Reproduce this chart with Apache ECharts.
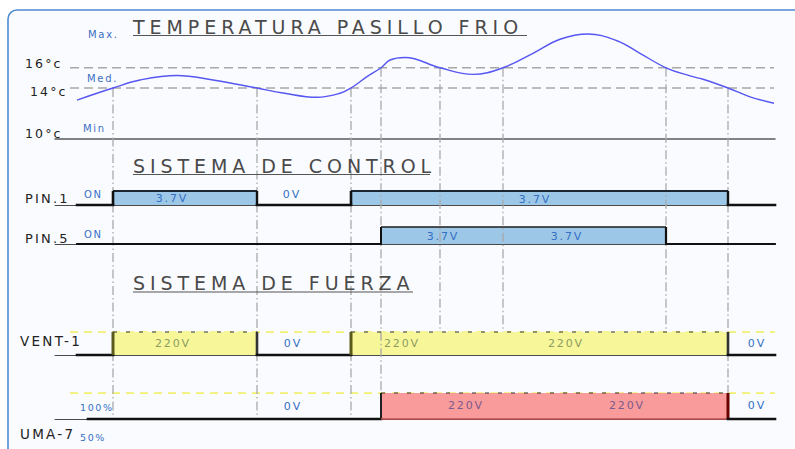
<!DOCTYPE html>
<html><head><meta charset="utf-8">
<script src="https://cdn.jsdelivr.net/npm/echarts@6/dist/echarts.min.js"></script>
<style>
html,body{margin:0;padding:0;background:#ffffff;}
#main{width:795px;height:449px;}
#main text{letter-spacing:0.17em;}
#main text[style*="cadTitle"]{letter-spacing:0.26em;}
</style></head><body><div id="main"></div>
<script>
// ---- Temperature curve (time units 0..720, °C) ----
const curveTime = [22,58,85,122,158,202,228,262,285,296,312,326,335,350,385,418,448,478,505,533,562,585,611,635,648,673,695,719];
const curveTemp = [12.93,14,14.76,15.2,14.76,14,13.55,13.17,13.52,14,15.09,16,16.84,17.12,16,15.32,16,17.6,19.31,20.0,19.12,17.6,16,15.16,14.83,14,13.21,12.66];
const thresholdTemps = [14, 16];
const thresholdSpan = [15, 719];

// ---- Event lines (where the curve crosses a threshold) ----
const eventTimes = [58, 202, 296, 326, 385, 448, 611, 673];
const eventStartTemps = [14, 14, 14, 16, 16, 16, 16, 14];
const eventEndRow = ['uma','uma','uma','uma','vent','vent','vent','uma'];

// ---- Signals: change times and levels (0 = off, 1 = on) ----
const pin1Times = [22, 58, 202, 296, 673, 720];
const pin1Levels = [0, 1, 0, 1, 0];
const pin5Times = [22, 326, 611, 720];
const pin5Levels = [0, 1, 0];
const vent1Times = [22, 58, 202, 296, 673, 720];
const vent1Levels = [0, 1, 0, 1, 0];
const uma7Times = [33, 326, 673, 720];
const uma7Levels = [0, 1, 0];
const powerGuideSpan = [15, 720];

// ---- Signal annotations ----
const pin1LabelTimes = [117, 237, 480];
const pin1LabelLevels = [0.5, 0.78, 0.36];
const pin1LabelTexts = ['3.7V', '0V', '3.7V'];
const pin5LabelTimes = [388, 512];
const pin5LabelLevels = [0.43, 0.43];
const pin5LabelTexts = ['3.7V', '3.7V'];
const vent1LabelTimes = [118, 238, 347, 511, 702];
const vent1LabelLevels = [0.52, 0.52, 0.52, 0.52, 0.52];
const vent1LabelTexts = ['220V', '0V', '220V', '220V', '0V'];
const uma7LabelTimes = [238, 411, 572, 702];
const uma7LabelLevels = [0.5, 0.51, 0.51, 0.52];
const uma7LabelTexts = ['0V', '220V', '220V', '0V'];

// ---- layout ----
const L = {
  temp: {top: 19.5, bottom: 139},
  pin1: {top: 191, bottom: 205},
  pin5: {top: 227, bottom: 244},
  vent: {top: 332, bottom: 355},
  uma:  {top: 393, bottom: 419}
};
const GL = 55, GW = 720;
const FONT = 'DejaVu Sans';
const TFONT = 'DejaVu Sans, cadTitle';

const chart = echarts.init(document.getElementById('main'), null, {renderer: 'svg'});

function segs(times, levels) { return levels.map((l, i) => [times[i], times[i + 1], l]); }
function labels(t, lv, tx) { return t.map((v, i) => [v, lv[i], tx[i]]); }

const order = ['temp', 'pin1', 'pin5', 'vent', 'uma'];
const grids = order.map(k => ({left: GL, width: GW, top: L[k].top, height: L[k].bottom - L[k].top}));
const xAxes = order.map((k, i) => ({
  type: 'value', gridIndex: i, min: 0, max: 720, show: true,
  axisLine: {show: true, onZero: false, lineStyle: {color: i === 0 ? '#5a5a5a' : '#4a4a4a', width: i === 0 ? 1.5 : 1}},
  axisTick: {show: false}, axisLabel: {show: false}, splitLine: {show: false}
}));
const yAxes = order.map((k, i) => i === 0
  ? {type: 'log', logBase: 10, gridIndex: 0, min: 10, max: 22, show: false}
  : {type: 'value', gridIndex: i, min: 0, max: 1, show: false});

function fillSeries(idx, data, fill) {
  return {
    type: 'custom', xAxisIndex: idx, yAxisIndex: idx, z: 2, silent: true, data: data,
    renderItem: (p, api) => {
      if (api.value(2) !== 1) return null;
      const a = api.coord([api.value(0), 0]), b = api.coord([api.value(1), 1]);
      return {type: 'rect', shape: {x: a[0], y: b[1], width: b[0] - a[0], height: a[1] - b[1]}, style: {fill: fill}};
    }
  };
}
function outlineSeries(idx, data, cfg) {
  return {
    type: 'custom', xAxisIndex: idx, yAxisIndex: idx, z: 4, silent: true, data: data,
    renderItem: (p, api) => {
      const a = api.coord([api.value(0), 0]), b = api.coord([api.value(1), 1]);
      if (api.value(2) === 0) {
        return {type: 'line', shape: {x1: a[0], y1: a[1], x2: b[0], y2: a[1]},
          style: {stroke: '#111', lineWidth: cfg.lowWidth, lineCap: 'square'}};
      }
      const ch = [
        {type: 'line', shape: {x1: a[0], y1: b[1], x2: b[0], y2: b[1]}, style: cfg.top},
        {type: 'line', shape: {x1: a[0], y1: a[1], x2: a[0], y2: b[1]}, style: cfg.rise},
        {type: 'line', shape: {x1: b[0], y1: a[1], x2: b[0], y2: b[1]}, style: cfg.fall}
      ];
      if (cfg.bottom) ch.push({type: 'line', shape: {x1: a[0], y1: a[1], x2: b[0], y2: a[1]}, style: cfg.bottom});
      return {type: 'group', children: ch};
    }
  };
}
function labelSeries(idx, data, color, size) {
  return {
    type: 'custom', xAxisIndex: idx, yAxisIndex: idx, z: 5, silent: true, data: data,
    renderItem: (p, api) => {
      const d = data[p.dataIndex];
      const c = api.coord([d[0], d[1]]);
      return {type: 'text', style: {text: d[2], x: c[0], y: c[1], textAlign: 'center', textVerticalAlign: 'middle',
        fill: typeof color === 'function' ? color(d[2]) : color, fontSize: size, fontFamily: FONT}};
    }
  };
}
function guideSeries(idx, span, level, color, dash) {
  return {type: 'line', xAxisIndex: idx, yAxisIndex: idx, silent: true, symbol: 'none', z: 1,
    data: [[span[0], level], [span[1], level]],
    lineStyle: {color: color, width: 1.3, type: dash}};
}

const blueTxt = '#3470c4';
const series = [
  guideSeries(0, thresholdSpan, thresholdTemps[0], '#a8a8a8', [9, 5]),
  guideSeries(0, thresholdSpan, thresholdTemps[1], '#a8a8a8', [9, 5]),
  {type: 'line', xAxisIndex: 0, yAxisIndex: 0, symbol: 'none', smooth: 0.4, z: 3, silent: true,
   data: curveTime.map((t, i) => [t, curveTemp[i]]), lineStyle: {color: '#5656f2', width: 1.4}},
  guideSeries(3, powerGuideSpan, 1, '#eeee44', [8, 6]),
  guideSeries(4, powerGuideSpan, 1, '#eeee44', [8, 6]),
  fillSeries(1, segs(pin1Times, pin1Levels), '#9dc7e7'),
  fillSeries(2, segs(pin5Times, pin5Levels), '#9dc7e7'),
  fillSeries(3, segs(vent1Times, vent1Levels), '#f7f799'),
  fillSeries(4, segs(uma7Times, uma7Levels), '#f99b9b'),
  {type: 'custom', xAxisIndex: 0, yAxisIndex: 0, z: 3, silent: true, clip: false,
   data: eventTimes.map((t, i) => [t, eventStartTemps[i], eventEndRow[i] === 'vent' ? 1 : 0]),
   renderItem: (p, api) => {
     const s = api.coord([api.value(0), api.value(1)]);
     const endY = api.value(2) === 1 ? L.vent.top : L.uma.bottom;
     return {type: 'line', shape: {x1: s[0], y1: s[1], x2: s[0], y2: endY},
       style: {stroke: '#a9a9a9', lineWidth: 1.3, lineDash: [9, 3, 1.5, 3]}};
   }},
  outlineSeries(1, segs(pin1Times, pin1Levels), {lowWidth: 2.6,
    top: {stroke: '#1c2630', lineWidth: 2}, rise: {stroke: '#111', lineWidth: 2.6}, fall: {stroke: '#111', lineWidth: 2.4}}),
  outlineSeries(2, segs(pin5Times, pin5Levels), {lowWidth: 1.8,
    top: {stroke: '#1c1c1c', lineWidth: 1.6}, rise: {stroke: '#111', lineWidth: 2}, fall: {stroke: '#111', lineWidth: 2.2}}),
  outlineSeries(3, segs(vent1Times, vent1Levels), {lowWidth: 2.6,
    top: {stroke: '#333', lineWidth: 1.2, lineDash: [4, 9]}, rise: {stroke: '#5a5a1a', lineWidth: 3}, fall: {stroke: '#333', lineWidth: 2.6}}),
  outlineSeries(4, segs(uma7Times, uma7Levels), {lowWidth: 2.6,
    top: {stroke: '#333', lineWidth: 1.2, lineDash: [4, 9]}, rise: {stroke: '#222', lineWidth: 2}, fall: {stroke: '#6a0000', lineWidth: 3},
    bottom: {stroke: '#c05050', lineWidth: 1.5}}),
  labelSeries(1, labels(pin1LabelTimes, pin1LabelLevels, pin1LabelTexts), blueTxt, 11),
  labelSeries(2, labels(pin5LabelTimes, pin5LabelLevels, pin5LabelTexts), blueTxt, 11),
  labelSeries(3, labels(vent1LabelTimes, vent1LabelLevels, vent1LabelTexts), t => t === '0V' ? blueTxt : '#8c9b62', 11),
  labelSeries(4, labels(uma7LabelTimes, uma7LabelLevels, uma7LabelTexts), t => t === '0V' ? blueTxt : '#7a5a8c', 11)
];

function txt(text, x, y, size, color, family, weight) {
  return {type: 'text', x: x, y: y, z: 10, silent: true,
    style: {text: text, fontSize: size, fill: color, fontFamily: family || FONT, fontWeight: weight || 'normal',
      textAlign: 'left', textVerticalAlign: 'middle'}};
}
function uline(x1, x2, y) {
  return {type: 'line', z: 10, silent: true, shape: {x1: x1, y1: y, x2: x2, y2: y}, style: {stroke: '#555', lineWidth: 1.2}};
}
const graphics = [
  {type: 'rect', z: -10, silent: true, shape: {x: 8, y: 10, width: 830, height: 480, r: 9},
   style: {fill: '#fafbfe', stroke: '#4f8bd0', lineWidth: 1.6}},
  txt('TEMPERATURA PASILLO FRIO', 133, 27, 19, '#4a4a4a', TFONT), uline(133, 527, 35.5),
  txt('SISTEMA DE CONTROL', 133, 166, 19, '#4a4a4a', TFONT), uline(133, 430, 174.5),
  txt('SISTEMA DE FUERZA', 133, 283, 19, '#4a4a4a', TFONT), uline(133, 413, 292),
  txt('Max.', 88, 34, 10, '#3b6fc2'), txt('Med.', 87, 78, 10, '#3b6fc2'), txt('Min', 83, 128, 10, '#3b6fc2'),
  txt('16°c', 25, 63, 12.5, '#222'), txt('14°c', 30, 91, 12.5, '#222'), txt('10°c', 25, 133, 12.5, '#222'),
  txt('PIN.1', 25, 198, 13, '#222'), txt('PIN.5', 25, 238, 13, '#222'),
  txt('VENT-1', 20, 341, 13.5, '#222'), txt('UMA-7', 20, 434, 13.5, '#222'),
  txt('ON', 84, 194, 10, '#3470c4'), txt('ON', 84, 234, 10, '#3470c4'),
  txt('100%', 80, 407, 9.5, '#3470c4'), txt('50%', 80, 437, 9.5, '#3470c4')
];

chart.setOption({
  animation: false,
  backgroundColor: '#ffffff',
  grid: grids, xAxis: xAxes, yAxis: yAxes,
  graphic: {elements: graphics},
  series: series
});
</script></body></html>
